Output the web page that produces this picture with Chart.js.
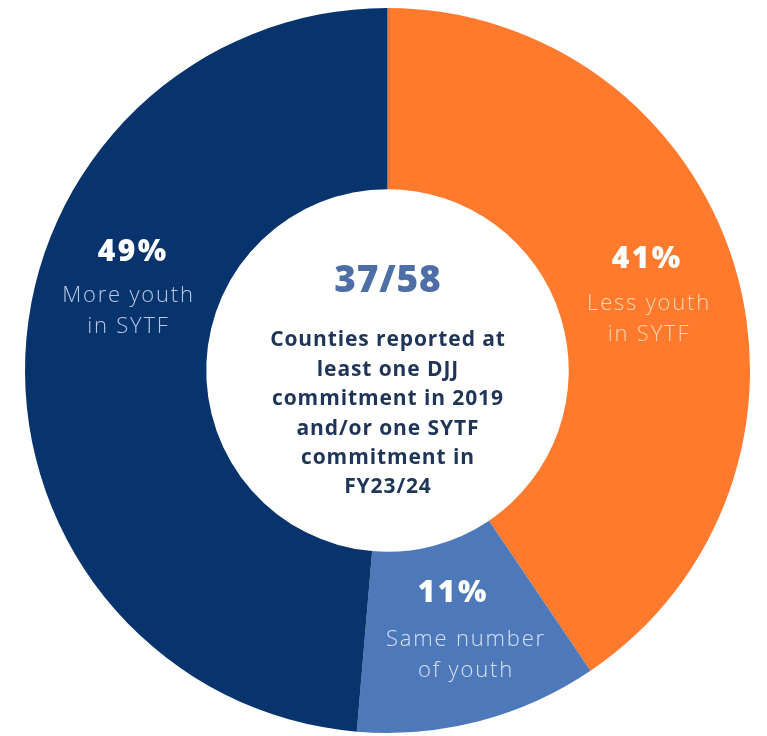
<!DOCTYPE html>
<html>
<head>
<meta charset="utf-8">
<script src="https://cdn.jsdelivr.net/npm/chart.js@4"></script>
<style>
  body { margin: 0; background: #fff; }
  #wrap { position: relative; width: 767px; height: 736px; }
</style>
</head>
<body>
<div id="wrap"><canvas id="ring"></canvas></div>
<script>
// counties (of 37) by change in youth numbers
const categories = ['Less youth in SYTF', 'Same number of youth', 'More youth in SYTF'];
const counties = [15, 4, 18];
const subLines = [['Less youth', 'in SYTF'], ['Same number', 'of youth'], ['More youth', 'in SYTF']];
const centerBig = '37/58';
const centerLines = ['Counties reported at', 'least one DJJ', 'commitment in 2019', 'and/or one SYTF', 'commitment in', 'FY23/24'];

const ringColors = ['#ff7a2c', '#4d78b9', '#08346e'];
const subColors = ['#fcd5b4', '#d6e1f2', '#b9c9e6'];
// where each label block sits, as fractions of the outer radius from the centre
const labelPos = [
  { x: 0.713, y: -0.305, sub: 0.006 },
  { x: 0.178, y: 0.614, sub: 0.036 },
  { x: -0.705, y: -0.327, sub: -0.012 }
];

const total = counties.reduce((a, b) => a + b, 0);
const FONT = '"Open Sans", "Noto Sans", sans-serif';

function centred(ctx, t, x, y, sp) {
  ctx.letterSpacing = sp + 'px';
  ctx.fillText(t, x + sp / 2, y);
}

const ringText = {
  id: 'ringText',
  afterDatasetsDraw(chart) {
    const ctx = chart.ctx;
    const arc = chart.getDatasetMeta(0).data[0];
    const cx = arc.x, cy = arc.y, R = arc.outerRadius;
    ctx.save();
    ctx.textAlign = 'center';
    ctx.textBaseline = 'middle';

    counties.forEach((v, i) => {
      const p = labelPos[i];
      const x = cx + p.x * R, y = cy + p.y * R;
      ctx.fillStyle = '#ffffff';
      ctx.font = '800 30px ' + FONT;
      centred(ctx, Math.round(v / total * 100) + '%', x, y, 2.5);
      ctx.fillStyle = subColors[i];
      ctx.font = '300 22px ' + FONT;
      const first = i === 1 ? 47 : 44;
      subLines[i].forEach((t, j) => {
        centred(ctx, t, x + p.sub * R, y + first + j * 31, 1.8);
      });
    });

    ctx.fillStyle = '#4d6fa6';
    ctx.font = '800 37px ' + FONT;
    centred(ctx, centerBig, cx, cy - 89, 0.8);
    ctx.fillStyle = '#1e3557';
    ctx.font = '700 21px ' + FONT;
    centerLines.forEach((t, j) => {
      centred(ctx, t, cx, cy - 30 + j * 29.4, 0.9);
    });
    ctx.restore();
  }
};

new Chart('ring', {
  type: 'doughnut',
  data: {
    labels: categories,
    datasets: [{
      data: counties,
      backgroundColor: ringColors,
      borderWidth: 0
    }]
  },
  options: {
    responsive: true,
    maintainAspectRatio: false,
    animation: false,
    cutout: '50%',
    layout: { padding: { left: 25, right: 17, top: 8, bottom: 3 } },
    plugins: {
      legend: { display: false },
      tooltip: { enabled: false }
    }
  },
  plugins: [ringText]
});
</script>
</body>
</html>
